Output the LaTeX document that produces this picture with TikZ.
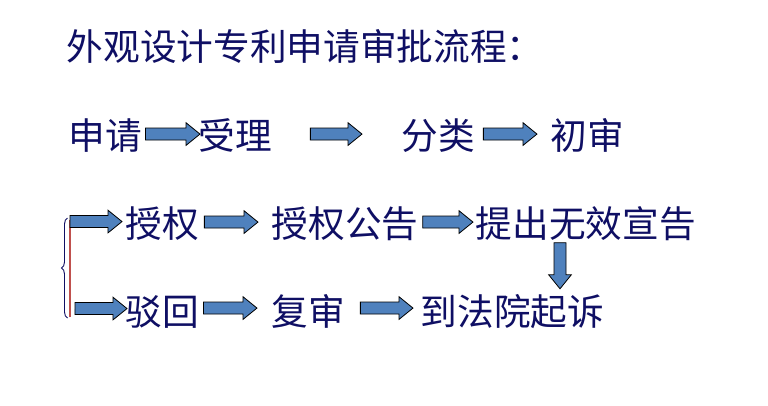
\documentclass[tikz,border=0pt]{standalone}
\usepackage{fontspec}
\newfontfamily\cjk{Noto Sans CJK SC}
\usepackage{xcolor}
\usepackage{tikz}
\usetikzlibrary{calc,decorations.pathreplacing}

\definecolor{navytext}{RGB}{15,15,100}
\definecolor{arrowblue}{RGB}{79,129,189}
\definecolor{bracketred}{RGB}{192,80,77}

\tikzset{
  flowtext/.style={anchor=base west, inner sep=0pt, text height=24.2pt, text depth=3.3pt,
    text=navytext, font=\cjk\fontsize{27.5pt}{33pt}\selectfont},
  blockarrow/.style={fill=arrowblue, draw=black, line width=0.6pt, line join=miter}
}

\newcommand{\blockarrow}[2]{%
  \coordinate (ba-s) at (#1);
  \coordinate (ba-e) at (#2);
  \coordinate (ba-h) at ($(ba-e)!10.5pt!(ba-s)$);
  \filldraw[blockarrow] ($(ba-s)!4.5pt!90:(ba-e)$) -- ($(ba-h)!4.5pt!90:(ba-e)$)
    -- ($(ba-h)!8.5pt!90:(ba-e)$) -- (ba-e) -- ($(ba-h)!8.5pt!-90:(ba-e)$)
    -- ($(ba-h)!4.5pt!-90:(ba-e)$) -- ($(ba-s)!4.5pt!-90:(ba-e)$) -- cycle;
}

\begin{document}
\begin{tikzpicture}[x=0.75pt, y=-0.75pt]
      \useasboundingbox[fill=white] (0,0) rectangle (768,405);

      \node[flowtext] (title) at (66.5,60) {外观设计专利申请审批流程：};

      \node[flowtext] (apply) at (68.5,149) {申请};
      \node[flowtext] (accept) at (198.5,149) {受理};
      \node[flowtext] (classify) at (401.5,149) {分类};
      \node[flowtext] (prelim) at (550.5,149) {初审};

      \node[flowtext] (grant) at (125.5,237) {授权};
      \node[flowtext] (notice) at (271.5,237) {授权公告};
      \node[flowtext] (invalid) at (475.5,237) {提出无效宣告};

      \node[flowtext] (reject) at (125.5,325) {驳回};
      \node[flowtext] (review) at (271.5,325) {复审};
      \node[flowtext] (court) at (420.5,325) {到法院起诉};

      \coordinate (brtop) at (70,221.5);
      \coordinate (brbot) at (75,308.5);
      \draw[navytext, line width=0.7pt, decorate, decoration={brace, amplitude=4.5pt}] (67.5,318) -- (67.5,218);
      \draw[bracketred, line width=2pt] (70,220) -- (70,317);

      \blockarrow{[shift={(3.2,-1)}]apply.east}{[shift={(1.5,-1)}]accept.west}
      \blockarrow{[shift={(38,-1)}]accept.east}{[shift={(-39.5,-1)}]classify.west}
      \blockarrow{[shift={(8,-1)}]classify.east}{[shift={(-13.5,-1)}]prelim.west}

      \blockarrow{brtop}{[shift={(-3.5,-1.5)}]grant.west}
      \blockarrow{[shift={(5,-1)}]grant.east}{[shift={(-13.5,-1)}]notice.west}
      \blockarrow{[shift={(4,-1)}]notice.east}{[shift={(-2.5,-1)}]invalid.west}
      \blockarrow{[shift={(84.5,1)}]invalid.south west}{[shift={(139.5,-3.7)}]court.north west}

      \blockarrow{brbot}{[shift={(1.5,-2.5)}]reject.west}
      \blockarrow{[shift={(4.2,-3)}]reject.east}{[shift={(-14.5,-3)}]review.west}
      \blockarrow{[shift={(15,-3)}]review.east}{[shift={(-7.5,-3)}]court.west}
    \end{tikzpicture}
\end{document}
